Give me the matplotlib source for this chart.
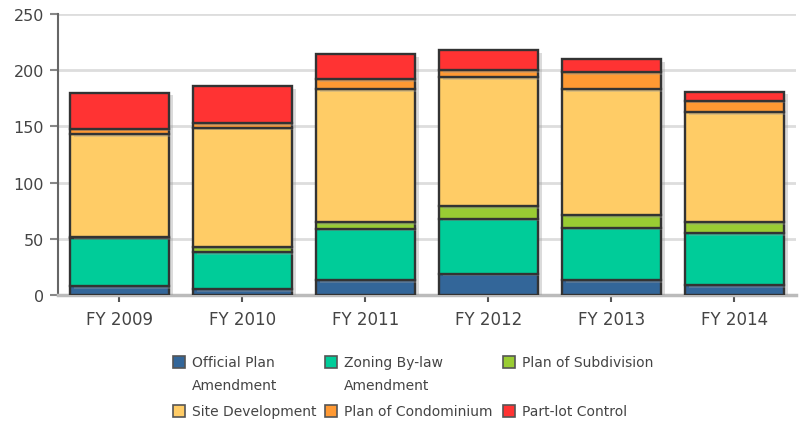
import matplotlib
matplotlib.use("Agg")
import matplotlib.pyplot as plt
import matplotlib.patches as patches
import matplotlib.patheffects as pe
import numpy as np

years = ["FY 2009", "FY 2010", "FY 2011", "FY 2012", "FY 2013", "FY 2014"]
official_plan = [8, 5, 13, 19, 13, 9]
zoning = [43, 33, 46, 49, 47, 46]
subdivision = [1, 5, 6, 11, 11, 10]
site_dev = [91, 106, 118, 115, 112, 98]
condominium = [5, 4, 9, 6, 15, 10]
part_lot = [32, 33, 22, 18, 12, 8]

series = [official_plan, zoning, subdivision, site_dev, condominium, part_lot]
names = ["Official Plan\nAmendment", "Zoning By-law\nAmendment", "Plan of Subdivision",
         "Site Development", "Plan of Condominium", "Part-lot Control"]
colors = ["#336699", "#00CC99", "#99CC33", "#FFCC66", "#FF9933", "#FF3333"]

fig = plt.figure(figsize=(8.03, 4.27), dpi=100)
ax = fig.add_axes([0.0722, 0.3068, 0.919, 0.658])

x = np.arange(len(years))
bottom = np.zeros(len(years))
shadow = [pe.SimplePatchShadow(offset=(3, -2), shadow_rgbFace="#999999", alpha=0.35), pe.Normal()]
for vals, c in zip(series, colors):
    vals = np.array(vals, dtype=float)
    bars = ax.bar(x, vals, 0.8, bottom=bottom, color=c, edgecolor="#333333", linewidth=1.7, zorder=3)
    for b in bars:
        b.set_path_effects(shadow)
    bottom += vals

ax.set_xlim(-0.5, 5.5)
ax.set_ylim(0, 250)
ax.set_yticks(range(0, 251, 50))
ax.set_xticks(x)
ax.set_xticklabels(years)
ax.yaxis.grid(True, color="#dddddd", linewidth=2, zorder=0)
ax.set_axisbelow(True)

for s in ["top", "right"]:
    ax.spines[s].set_visible(False)
ax.spines["left"].set_color("#666666")
ax.spines["left"].set_linewidth(1.5)
ax.spines["bottom"].set_color("#bbbbbb")
ax.spines["bottom"].set_linewidth(2.5)
ax.tick_params(axis="y", length=6, width=1.5, color="#888888", labelsize=11.5, labelcolor="#444444", pad=4)
ax.tick_params(axis="x", length=5, width=1.5, color="#555555", labelsize=12, labelcolor="#444444", pad=6)

# legend drawn by hand so rows line up across columns
col_x = [173, 325, 503]
row_y = [363, 412]
order = [(0, 0), (0, 1), (0, 2), (1, 0), (1, 1), (1, 2)]
for (r, cidx), name, c in zip(order, names, colors):
    px, py = col_x[cidx], row_y[r]
    sq = patches.Rectangle((px / 803, 1 - (py + 6) / 427), 12 / 803, 12 / 427,
                           transform=fig.transFigure, facecolor=c, edgecolor="#555555", linewidth=1.2)
    fig.patches.append(sq)
    fig.text((px + 19) / 803, 1 - (py - 7) / 427, name, ha="left", va="top",
             fontsize=10, color="#444444", linespacing=1.8)

fig.savefig("out.png", dpi=100)
